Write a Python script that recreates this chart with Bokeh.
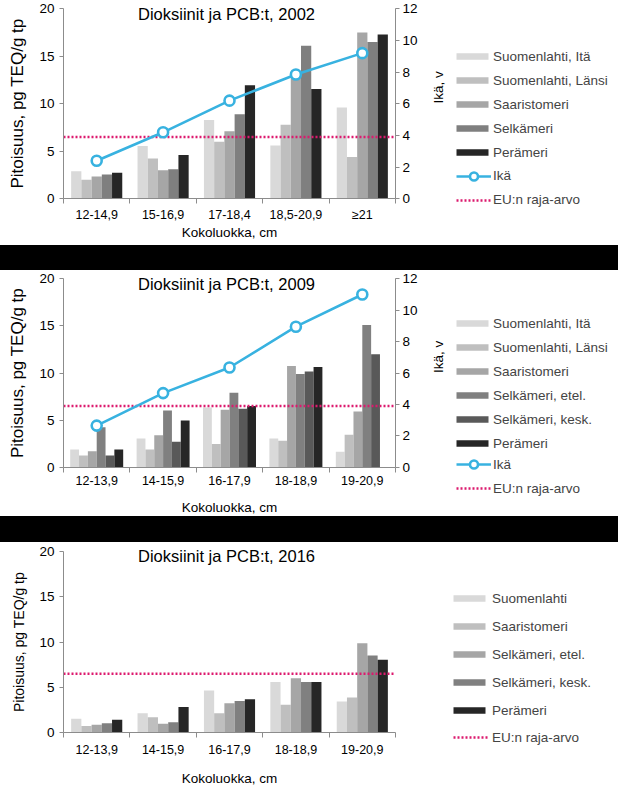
import math
import numpy as np
from bokeh.plotting import figure
from bokeh.layouts import column
from bokeh.models import Range1d, LinearAxis, FixedTicker, Legend, LegendItem, Label, Div
from bokeh.embed import file_html
from bokeh.resources import INLINE

FONT = "Liberation Sans"
AXIS_GREY = "#8c8c8c"
AGE_COLOR = "#38b2e0"
EU_COLOR = "#dc1a6e"

# ---------------- data ----------------
eu_limit = 6.5

cats_2002 = ["12-14,9", "15-16,9", "17-18,4", "18,5-20,9", "\u226521"]
y2002_suomenlahti_ita = [2.9, 5.55, 8.3, 5.6, 9.6]
y2002_suomenlahti_lansi = [2.0, 4.25, 6.0, 7.8, 4.4]
y2002_saaristomeri = [2.35, 3.0, 7.1, 13.3, 17.5]
y2002_selkameri = [2.55, 3.1, 8.9, 16.1, 16.5]
y2002_peramer = [2.75, 4.6, 11.95, 11.55, 17.3]
age_2002 = [2.4, 4.2, 6.2, 7.85, 9.2]

cats_2009 = ["12-13,9", "14-15,9", "16-17,9", "18-18,9", "19-20,9"]
y2009_suomenlahti_ita = [1.88, 3.05, 6.35, 3.05, 1.65]
y2009_suomenlahti_lansi = [1.25, 1.88, 2.45, 2.8, 3.45]
y2009_saaristomeri = [1.7, 3.4, 6.1, 10.75, 5.9]
y2009_selkameri_etel = [4.25, 6.02, 7.9, 9.9, 15.1]
y2009_selkameri_kesk = [1.25, 2.7, 6.2, 10.15, 12.0]
y2009_peramer = [1.88, 4.96, 6.5, 10.65, float("nan")]
age_2009 = [2.65, 4.72, 6.35, 8.95, 11.0]

cats_2016 = ["12-13,9", "14-15,9", "16-17,9", "18-18,9", "19-20,9"]
y2016_suomenlahti = [1.55, 2.15, 4.65, 5.6, 3.45]
y2016_saaristomeri = [0.75, 1.7, 2.15, 3.1, 3.9]
y2016_selkameri_etel = [0.9, 1.0, 3.25, 6.0, 9.85]
y2016_selkameri_kesk = [1.05, 1.15, 3.5, 5.6, 8.5]
y2016_peramer = [1.45, 2.85, 3.7, 5.6, 8.05]

series_2002 = [
    ("Suomenlahti, It\u00e4", y2002_suomenlahti_ita, "#d9d9d9"),
    ("Suomenlahti, L\u00e4nsi", y2002_suomenlahti_lansi, "#bfbfbf"),
    ("Saaristomeri", y2002_saaristomeri, "#a6a6a6"),
    ("Selk\u00e4meri", y2002_selkameri, "#7f7f7f"),
    ("Per\u00e4meri", y2002_peramer, "#262626"),
]
series_2009 = [
    ("Suomenlahti, It\u00e4", y2009_suomenlahti_ita, "#d9d9d9"),
    ("Suomenlahti, L\u00e4nsi", y2009_suomenlahti_lansi, "#bfbfbf"),
    ("Saaristomeri", y2009_saaristomeri, "#a6a6a6"),
    ("Selk\u00e4meri, etel.", y2009_selkameri_etel, "#808080"),
    ("Selk\u00e4meri, kesk.", y2009_selkameri_kesk, "#595959"),
    ("Per\u00e4meri", y2009_peramer, "#262626"),
]
series_2016 = [
    ("Suomenlahti", y2016_suomenlahti, "#d9d9d9"),
    ("Saaristomeri", y2016_saaristomeri, "#bfbfbf"),
    ("Selk\u00e4meri, etel.", y2016_selkameri_etel, "#a6a6a6"),
    ("Selk\u00e4meri, kesk.", y2016_selkameri_kesk, "#808080"),
    ("Per\u00e4meri", y2016_peramer, "#262626"),
]

W = 618
PLOT_L, PLOT_R = 63, 395   # pixel extent of the bar area


def style_axis(ax, fs="13px"):
    ax.axis_line_color = AXIS_GREY
    ax.major_tick_line_color = AXIS_GREY
    ax.minor_tick_line_color = AXIS_GREY
    ax.major_label_text_font = FONT
    ax.major_label_text_font_size = fs
    ax.major_label_text_color = "black"
    ax.axis_label_text_font = FONT
    ax.axis_label_text_font_style = "normal"
    ax.axis_label_text_color = "black"


def make_panel(height, ftop, fbot, title, cats, series, bar_w, age,
               leg_spacing, vx1, vy1, vx2, vy2, so1, so2,
               tick_standoff, xlabel_standoff, ylabel_fs):
    n = len(cats)
    # ranges chosen so the bar area occupies [PLOT_L, PLOT_R] x [ftop, fbot]
    ppx = (PLOT_R - PLOT_L) / n
    x_start = -0.5 - PLOT_L / ppx
    x_end = n - 0.5 + (W - PLOT_R) / ppx
    ppy = (fbot - ftop) / 20.0
    y_start = -(height - fbot) / ppy
    y_end = 20 + ftop / ppy

    p = figure(width=W, height=height, x_range=Range1d(x_start, x_end),
               y_range=Range1d(y_start, y_end), output_backend="svg",
               toolbar_location=None, x_axis_type=None, y_axis_type=None, min_border=0)
    p.outline_line_color = None
    p.background_fill_color = "white"
    p.border_fill_color = "white"
    p.xgrid.visible = False
    p.ygrid.visible = False

    # x axis: labels at category centres, separator ticks between them
    xax = LinearAxis(ticker=FixedTicker(ticks=list(range(n)),
                                        minor_ticks=[i - 0.5 for i in range(n + 1)]),
                     major_label_overrides={i: c for i, c in enumerate(cats)},
                     fixed_location=0, bounds=(-0.5, n - 0.5))
    style_axis(xax, "12.5px")
    xax.major_tick_out = 0
    xax.major_tick_in = 0
    xax.minor_tick_out = 5
    xax.minor_tick_in = 0
    xax.major_label_standoff = tick_standoff
    xax.axis_label = "Kokoluokka, cm"
    xax.axis_label_text_font_size = "13.5px"
    xax.axis_label_standoff = xlabel_standoff
    p.add_layout(xax, "below")

    yax = LinearAxis(ticker=FixedTicker(ticks=[0, 5, 10, 15, 20]),
                     fixed_location=-0.5, bounds=(0, 20))
    style_axis(yax, "13.5px")
    yax.major_tick_out = 4
    yax.major_tick_in = 0
    yax.minor_tick_out = 0
    yax.major_label_standoff = 5
    yax.axis_label = "Pitoisuus, pg TEQ/g tp"
    yax.axis_label_text_font_size = ylabel_fs
    yax.axis_label_standoff = 9
    p.add_layout(yax, "left")

    ns = len(series)
    bar_items = []
    for k, (name, vals, col) in enumerate(series):
        xs = [i + (k - (ns - 1) / 2) * bar_w for i in range(n)]
        r = p.vbar(x=xs, top=vals, width=bar_w, bottom=0, fill_color=col, line_color=None)
        bar_items.append(LegendItem(label=name, renderers=[r]))

    eu_r = p.line(x=[-0.5, n - 0.5], y=[eu_limit, eu_limit], line_color=EU_COLOR,
                  line_width=2.6, line_dash="2 2")

    other_items = []
    if age is not None:
        ppa = (fbot - ftop) / 12.0
        p.extra_y_ranges = {"age": Range1d(-(height - fbot) / ppa, 12 + ftop / ppa)}
        rax = LinearAxis(y_range_name="age", ticker=FixedTicker(ticks=[0, 2, 4, 6, 8, 10, 12]),
                         fixed_location=n - 0.5, bounds=(0, 12))
        style_axis(rax, "13.5px")
        rax.major_tick_out = 4
        rax.major_tick_in = 0
        rax.minor_tick_out = 0
        rax.major_label_standoff = 3
        rax.axis_label = "Ik\u00e4, v"
        rax.axis_label_text_font_size = "13.5px"
        rax.axis_label_standoff = 18
        try:
            rax.axis_label_orientation = math.pi / 2
        except Exception:
            pass
        p.add_layout(rax, "right")
        xa = list(range(n))
        ln = p.line(x=xa, y=age, y_range_name="age", line_color=AGE_COLOR, line_width=2.6)
        sc = p.scatter(x=xa, y=age, y_range_name="age", marker="circle", size=10,
                       fill_color="white", line_color=AGE_COLOR, line_width=2.6)
        other_items.append(LegendItem(label="Ik\u00e4", renderers=[ln, sc]))
    other_items.append(LegendItem(label="EU:n raja-arvo", renderers=[eu_r]))

    p.add_layout(Label(x=(n - 1) / 2, y=20, x_offset=-3, y_offset=-5, text=title,
                       text_align="center", text_baseline="middle",
                       text_font=FONT, text_font_size="16.5px", text_color="black"))

    common = dict(orientation="vertical", padding=0, margin=0, border_line_color=None,
                  background_fill_alpha=0, label_text_font=FONT,
                  label_text_font_size="13.5px", label_height=20, spacing=leg_spacing)
    leg1 = Legend(items=bar_items, location=(vx1, vy1), glyph_width=40, glyph_height=8,
                  label_standoff=so1, **common)
    leg2 = Legend(items=other_items, location=(vx2, vy2), glyph_width=35, glyph_height=20,
                  label_standoff=so2, **common)
    p.add_layout(leg1)
    p.add_layout(leg2)
    return p


def band(h):
    return Div(text="", width=W, height=h, margin=0,
               styles={"background-color": "black"})


p1 = make_panel(245, 8.3, 198.3, "Dioksiinit ja PCB:t, 2002", cats_2002, series_2002, 0.154,
                age_2002, 4, 452, 83, 456, 35.5, 1, 2, 4, 0, "17px")
p2 = make_panel(246, 8.3, 196.7, "Dioksiinit ja PCB:t, 2009", cats_2009, series_2009, 0.133,
                age_2009, 4, 452, 63, 456, 18, 1, 2, 4, 11, "17px")
p3 = make_panel(244, 8.7, 190.3, "Dioksiinit ja PCB:t, 2016", cats_2016, series_2016, 0.154,
                None, 8, 449, 66, 453, 39, 3, 4, 7, 14, "14px")

layout = column(p1, band(25), p2, band(26), p3, spacing=0)

open("out.html", "w").write(file_html(layout, INLINE))
